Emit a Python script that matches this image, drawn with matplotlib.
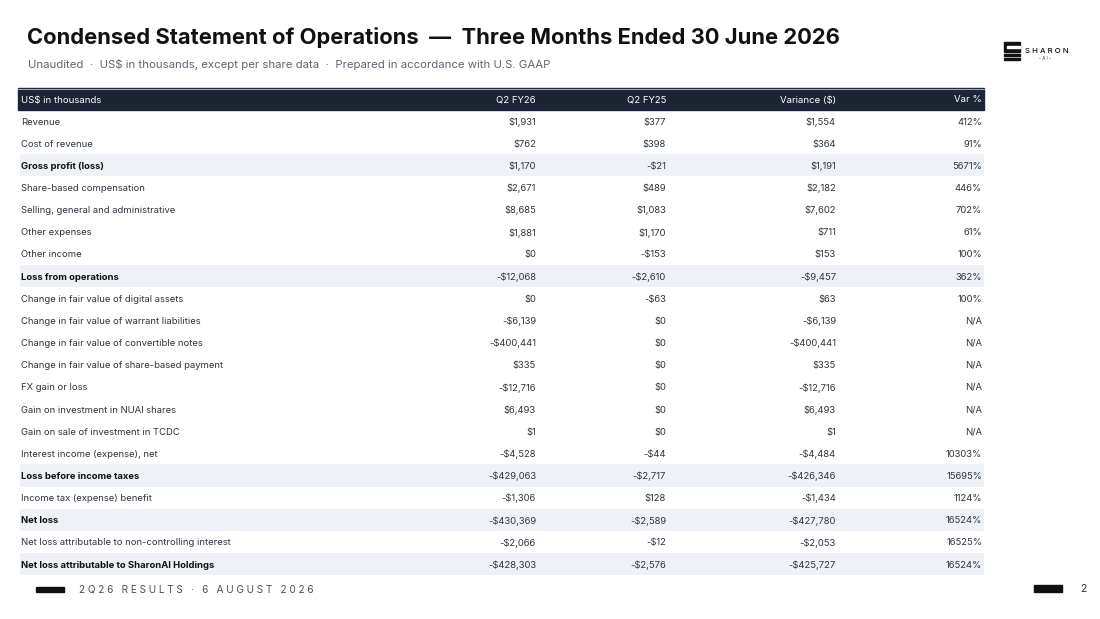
import matplotlib.pyplot as plt
from matplotlib.patches import Rectangle

plt.rcParams['font.family'] = ['Inter', 'DejaVu Sans']

title = "Condensed Statement of Operations  \u2014  Three Months Ended 30 June 2026"
subtitle = "Unaudited  \u00b7  US$ in thousands, except per share data  \u00b7  Prepared in accordance with U.S. GAAP"
columns = ["US$ in thousands", "Q2 FY26", "Q2 FY25", "Variance ($)", "Var %"]

line_items = [
    "Revenue", "Cost of revenue", "Gross profit (loss)", "Share-based compensation",
    "Selling, general and administrative", "Other expenses", "Other income",
    "Loss from operations", "Change in fair value of digital assets",
    "Change in fair value of warrant liabilities", "Change in fair value of convertible notes",
    "Change in fair value of share-based payment", "FX gain or loss",
    "Gain on investment in NUAI shares", "Gain on sale of investment in TCDC",
    "Interest income (expense), net", "Loss before income taxes",
    "Income tax (expense) benefit", "Net loss",
    "Net loss attributable to non-controlling interest",
    "Net loss attributable to SharonAI Holdings",
]
q2_fy26 = ["$1,931", "$762", "$1,170", "$2,671", "$8,685", "$1,881", "$0", "-$12,068", "$0",
           "-$6,139", "-$400,441", "$335", "-$12,716", "$6,493", "$1", "-$4,528", "-$429,063",
           "-$1,306", "-$430,369", "-$2,066", "-$428,303"]
q2_fy25 = ["$377", "$398", "-$21", "$489", "$1,083", "$1,170", "-$153", "-$2,610", "-$63",
           "$0", "$0", "$0", "$0", "$0", "$0", "-$44", "-$2,717", "$128", "-$2,589", "-$12",
           "-$2,576"]
variance = ["$1,554", "$364", "$1,191", "$2,182", "$7,602", "$711", "$153", "-$9,457", "$63",
            "-$6,139", "-$400,441", "$335", "-$12,716", "$6,493", "$1", "-$4,484", "-$426,346",
            "-$1,434", "-$427,780", "-$2,053", "-$425,727"]
var_pct = ["412%", "91%", "5671%", "446%", "702%", "61%", "100%", "362%", "100%", "N/A", "N/A",
           "N/A", "N/A", "N/A", "N/A", "10303%", "15695%", "1124%", "16524%", "16525%", "16524%"]
subtotals = ["Gross profit (loss)", "Loss from operations", "Loss before income taxes",
             "Net loss", "Net loss attributable to SharonAI Holdings"]

W, H = 1100, 619
fig = plt.figure(figsize=(W / 100, H / 100), dpi=100)
ax = fig.add_axes([0, 0, 1, 1])
ax.set_xlim(0, W)
ax.set_ylim(H, 0)
ax.axis('off')

navy = '#1d2436'
text_c = '#30343c'

# heading
ax.text(27, 38, title, fontsize=15.8, fontweight='bold', color='#111111', va='center')
ax.text(28, 65, subtitle, fontsize=8.2, color='#5f6672', va='center')

# logo
ax.add_patch(Rectangle((1004, 42), 16, 10, color='#111111'))
ax.add_patch(Rectangle((1007, 46), 13, 2.2, color='white'))
ax.add_patch(Rectangle((1004, 54), 16, 2.3, color='#111111'))
ax.add_patch(Rectangle((1004, 58), 16, 2.3, color='#111111'))
ax.text(1025, 51, "S H A R O N", fontsize=5.6, fontweight='medium', color='#111111', va='center')
ax.text(1039, 58.5, "- A I -", fontsize=3.2, color='#333333', va='center')

# table
left, right = 18, 984
top, hdr_h, row_h = 88, 22, 22.15
col_x = [21, 536, 666, 836, 982]

ax.add_patch(Rectangle((left, top), right - left, hdr_h, color=navy))
ax.plot([left, right], [top + 0.5, top + 0.5], color='#9aa3b0', lw=0.8)
yh = top + hdr_h / 2
for j, c in enumerate(columns):
    ax.text(col_x[j], yh, c, fontsize=6.9, color='white', va='center_baseline',
            ha='left' if j == 0 else 'right')

for i, item in enumerate(line_items):
    y0 = top + hdr_h + i * row_h
    yc = y0 + row_h / 2
    is_sub = item in subtotals
    if is_sub:
        ax.add_patch(Rectangle((20, y0), right - 20, row_h, color='#eef2f7', lw=0))
    ax.text(col_x[0], yc, item, fontsize=6.8, color='#111111' if is_sub else text_c,
            fontweight='bold' if is_sub else 'normal', va='center_baseline')
    for j, vals in enumerate([q2_fy26, q2_fy25, variance, var_pct], start=1):
        ax.text(col_x[j], yc, vals[i], fontsize=6.8, color=text_c, va='center_baseline',
                ha='right')

# footer
ax.add_patch(Rectangle((36, 587), 28, 5, color='#111111'))
ax.text(79, 589.5, "2 Q 2 6   R E S U L T S   \u00b7   6   A U G U S T   2 0 2 6",
        fontsize=7.2, color='#4a4f58', va='center')
ax.add_patch(Rectangle((1034, 585), 28, 6.5, color='#111111'))
ax.text(1083, 589, "2", fontsize=7.5, color='#333333', va='center', ha='center')

fig.savefig('out.png', dpi=100)
